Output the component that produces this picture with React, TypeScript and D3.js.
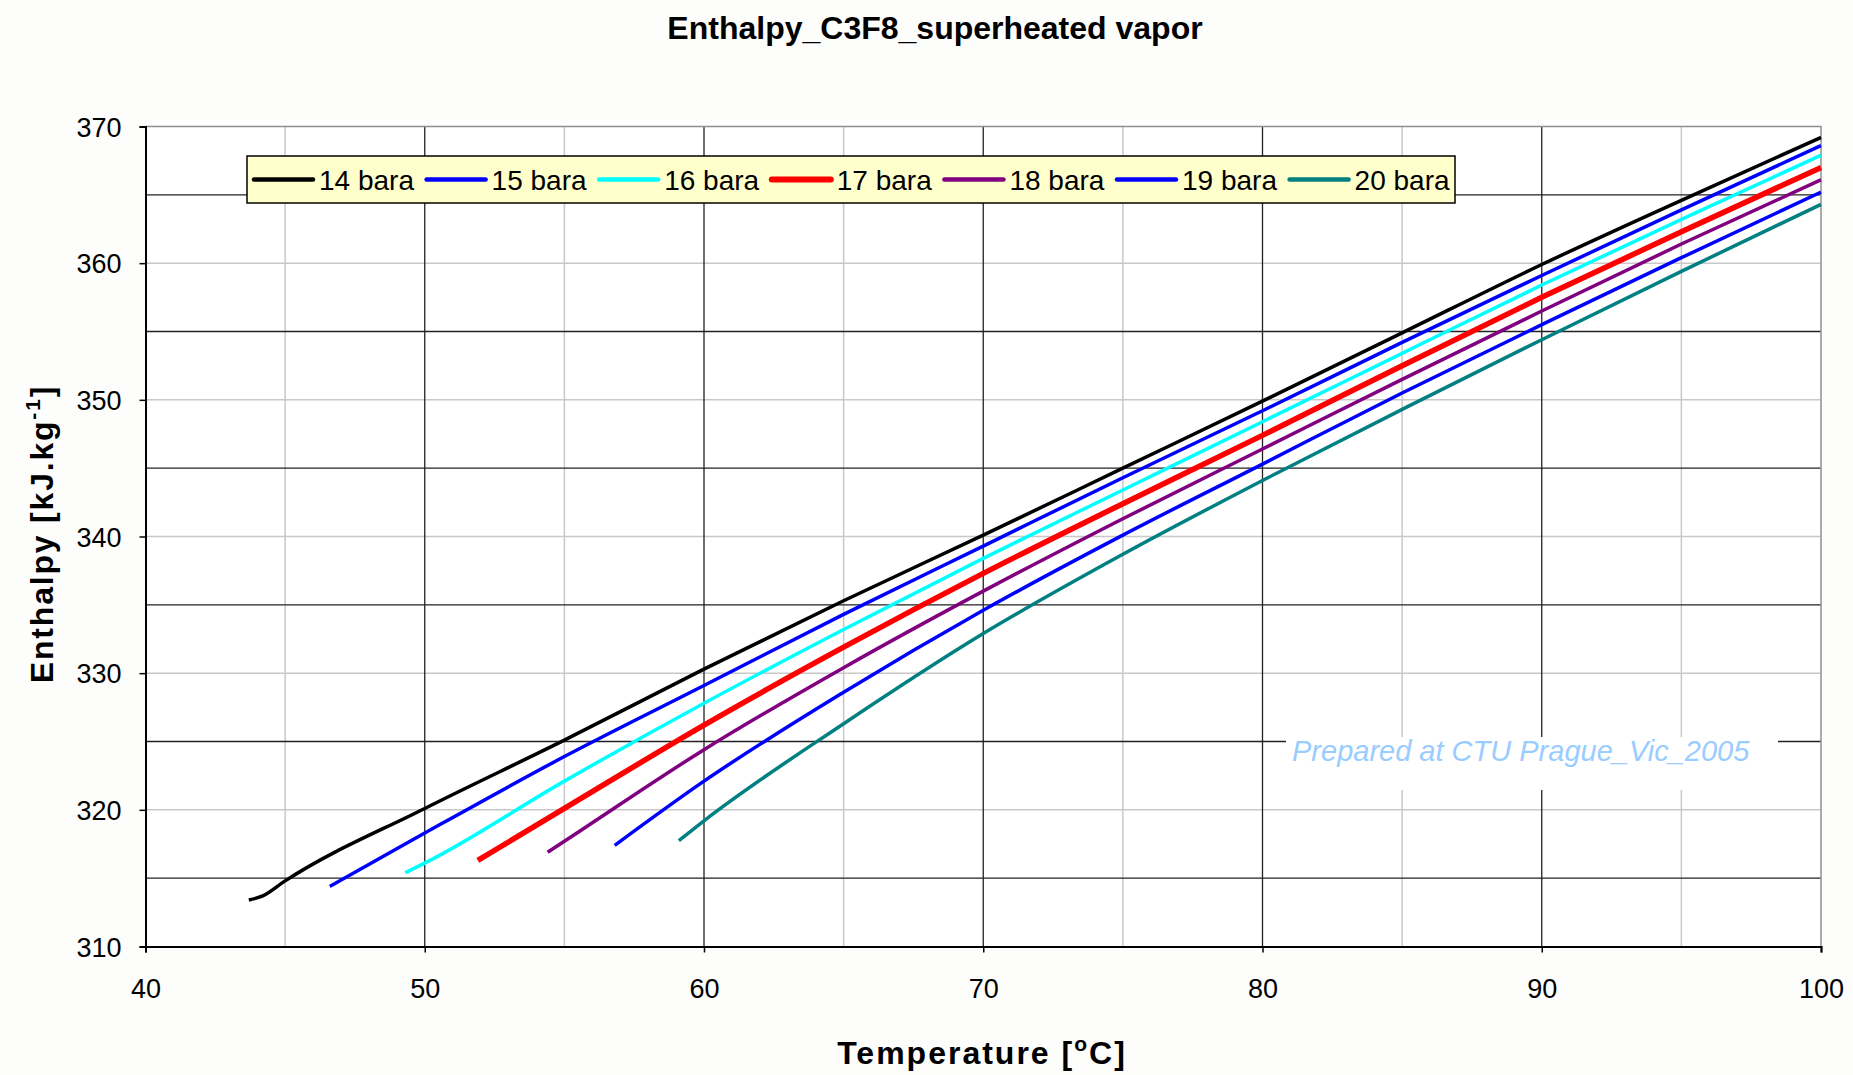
import React, { useEffect, useRef } from 'react';
import * as d3 from 'd3';

// pressure series (bara) and their curves: [temperature °C, enthalpy kJ/kg]
const seriesNames = ['14 bara', '15 bara', '16 bara', '17 bara', '18 bara', '19 bara', '20 bara'];
const seriesColors = ['#000000', '#0000ff', '#00ffff', '#ff0000', '#800080', '#0000ff', '#008080'];
const seriesWidths = [3.5, 3.5, 3.5, 5.5, 3.5, 3.5, 3.5];

const bar14: [number, number][] = [
  [43.7, 313.4], [44.2, 313.7], [45, 314.8], [50, 320.1], [55, 325.1], [60, 330.3], [65, 335.3],
  [70, 340.1], [75, 345.0], [80, 349.9], [85, 354.9], [90, 359.9], [95, 364.6], [100, 369.2],
];
const bar15: [number, number][] = [
  [46.6, 314.4], [50, 318.3], [55, 323.9], [60, 329.1], [65, 334.3], [70, 339.3], [75, 344.3],
  [80, 349.2], [85, 354.2], [90, 359.1], [95, 363.9], [100, 368.6],
];
const bar16: [number, number][] = [
  [49.3, 315.4], [50, 316.1], [55, 322.1], [60, 327.8], [65, 333.2], [70, 338.4], [75, 343.4],
  [80, 348.4], [85, 353.4], [90, 358.4], [95, 363.2], [100, 367.9],
];
const bar17: [number, number][] = [
  [51.9, 316.3], [55, 320.1], [60, 326.2], [65, 331.9], [70, 337.3], [75, 342.4],
  [80, 347.4], [85, 352.5], [90, 357.5], [95, 362.3], [100, 367.0],
];
const bar18: [number, number][] = [
  [54.4, 316.9], [55, 317.7], [60, 324.4], [65, 330.4], [70, 336.0], [75, 341.3],
  [80, 346.4], [85, 351.5], [90, 356.5], [95, 361.4], [100, 366.1],
];
const bar19: [number, number][] = [
  [56.8, 317.4], [60, 322.1], [65, 328.6], [70, 334.6], [75, 340.1],
  [80, 345.3], [85, 350.5], [90, 355.5], [95, 360.4], [100, 365.2],
];
const bar20: [number, number][] = [
  [59.1, 317.75], [60, 319.2], [65, 326.3], [70, 332.9], [75, 338.7],
  [80, 344.1], [85, 349.3], [90, 354.4], [95, 359.4], [100, 364.3],
];
const seriesData = [bar14, bar15, bar16, bar17, bar18, bar19, bar20];

const xTicks = [40, 50, 60, 70, 80, 90, 100];
const xMinor = [45, 55, 65, 75, 85, 95];
const yTicks = [310, 320, 330, 340, 350, 360, 370];
const yDark = [315, 325, 335, 345, 355, 365];

const FONT = 'Arial, "Liberation Sans", sans-serif';

export default function App() {
  const svgRef = useRef<SVGSVGElement>(null);

  useEffect(() => {
    const width = 1853;
    const height = 1075;
    const svg = d3.select(svgRef.current);
    svg.selectAll('*').remove();
    svg.attr('width', width).attr('height', height);

    const left = 145.5;
    const right = 1821;
    const top = 126.5;
    const bottom = 946.5;

    const x = d3.scaleLinear().domain([40, 100]).range([left, right]);
    const y = d3.scaleLinear().domain([310, 370]).range([bottom, top]);

    svg.append('rect').attr('width', width).attr('height', height).attr('fill', '#fdfdfc');
    svg.append('rect')
      .attr('x', left).attr('y', top)
      .attr('width', right - left).attr('height', bottom - top)
      .attr('fill', '#ffffff');

    const grid = svg.append('g');
    // light gridlines
    grid.selectAll('line.xm').data(xMinor).enter().append('line')
      .attr('x1', (d) => x(d)).attr('x2', (d) => x(d))
      .attr('y1', top).attr('y2', bottom)
      .attr('stroke', '#c8c8c8').attr('stroke-width', 1.5);
    grid.selectAll('line.yl').data(yTicks.slice(1, -1)).enter().append('line')
      .attr('x1', left).attr('x2', right)
      .attr('y1', (d) => y(d)).attr('y2', (d) => y(d))
      .attr('stroke', '#c8c8c8').attr('stroke-width', 1.5);
    // dark gridlines
    grid.selectAll('line.xM').data(xTicks.slice(1, -1)).enter().append('line')
      .attr('x1', (d) => x(d)).attr('x2', (d) => x(d))
      .attr('y1', top).attr('y2', bottom)
      .attr('stroke', '#222').attr('stroke-width', 1.3);
    grid.selectAll('line.yd').data(yDark).enter().append('line')
      .attr('x1', left).attr('x2', right)
      .attr('y1', (d) => y(d)).attr('y2', (d) => y(d))
      .attr('stroke', '#222').attr('stroke-width', 1.3);

    // plot border (top/right) and axes
    svg.append('path')
      .attr('d', `M${left},${top}H${right}V${bottom}`)
      .attr('fill', 'none').attr('stroke', '#909090').attr('stroke-width', 1.5);

    const xAxis = d3.axisBottom(x).tickValues(xTicks).tickSize(6).tickFormat(d3.format('d'));
    const gx = svg.append('g').attr('transform', `translate(0,${bottom})`).call(xAxis);
    const yAxis = d3.axisLeft(y).tickValues(yTicks).tickSize(6).tickFormat(d3.format('d'));
    const gy = svg.append('g').attr('transform', `translate(${left},0)`).call(yAxis);
    [gx, gy].forEach((g) => {
      g.select('.domain').attr('stroke', '#000').attr('stroke-width', 2);
      g.selectAll('.tick line').attr('stroke', '#000').attr('stroke-width', 1.5);
      g.selectAll('.tick text')
        .attr('font-family', FONT).attr('font-size', 27).attr('fill', '#000');
    });
    gx.selectAll('.tick text').attr('dy', null).attr('y', 51);
    gy.selectAll('.tick text').attr('dy', '0.36em').attr('x', -24);

    // watermark with white background
    svg.append('rect')
      .attr('x', 1286).attr('y', 737).attr('width', 492).attr('height', 53)
      .attr('fill', '#ffffff');
    svg.append('text')
      .attr('x', 1292).attr('y', 761)
      .attr('font-family', FONT).attr('font-size', 29).attr('font-style', 'italic')
      .attr('fill', '#99ccff')
      .text('Prepared at CTU Prague_Vic_2005');

    // curves
    const line = d3.line<[number, number]>()
      .x((d) => x(d[0])).y((d) => y(d[1]))
      .curve(d3.curveMonotoneX);
    svg.append('g').selectAll('path.curve')
      .data(seriesData).enter().append('path')
      .attr('d', (d) => line(d))
      .attr('fill', 'none')
      .attr('stroke', (_, i) => seriesColors[i])
      .attr('stroke-width', (_, i) => seriesWidths[i])
      .attr('stroke-linejoin', 'round');

    // legend
    const lg = svg.append('g').attr('transform', 'translate(247,156)');
    lg.append('rect').attr('width', 1208).attr('height', 47)
      .attr('fill', '#ffffcc').attr('stroke', '#000').attr('stroke-width', 1.5);
    const item = lg.selectAll('g.item').data(seriesNames).enter().append('g')
      .attr('transform', (_, i) => `translate(${7 + i * 172.6},23.5)`);
    item.append('line')
      .attr('x1', 0).attr('x2', 59).attr('y1', 0).attr('y2', 0)
      .attr('stroke', (_, i) => seriesColors[i])
      .attr('stroke-width', (_, i) => (i === 3 ? 6 : 4.5))
      .attr('stroke-linecap', 'round');
    item.append('text')
      .attr('x', 65).attr('y', 0).attr('dy', '0.36em')
      .attr('font-family', FONT).attr('font-size', 28).attr('fill', '#000')
      .text((d) => d);

    // titles
    svg.append('text')
      .attr('x', 935).attr('y', 39).attr('text-anchor', 'middle')
      .attr('font-family', FONT).attr('font-size', 32).attr('font-weight', 'bold')
      .text('Enthalpy_C3F8_superheated vapor');

    const xt = svg.append('text')
      .attr('x', 982).attr('y', 1064).attr('text-anchor', 'middle')
      .attr('font-family', FONT).attr('font-size', 32).attr('font-weight', 'bold')
      .attr('letter-spacing', 2);
    xt.append('tspan').text('Temperature [');
    xt.append('tspan').attr('font-size', 21).attr('dy', -13).text('o');
    xt.append('tspan').attr('dy', 13).text('C]');

    const yt = svg.append('text')
      .attr('transform', 'translate(53,534) rotate(-90)')
      .attr('text-anchor', 'middle')
      .attr('font-family', FONT).attr('font-size', 32).attr('font-weight', 'bold')
      .attr('letter-spacing', 1.8);
    yt.append('tspan').text('Enthalpy [kJ.kg');
    yt.append('tspan').attr('font-size', 21).attr('dy', -13).text('-1');
    yt.append('tspan').attr('dy', 13).text(']');
  }, []);

  return <svg ref={svgRef} style={{ position: 'absolute', left: 0, top: 0 }} />;
}
